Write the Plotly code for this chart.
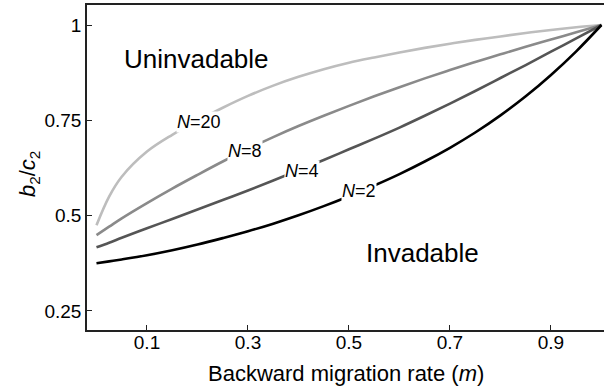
import plotly.graph_objects as go

# Backward migration rate m (x values)
m_vals = [0, 0.025, 0.05, 0.1, 0.15, 0.2, 0.25, 0.3, 0.35, 0.4, 0.45, 0.5,
          0.55, 0.6, 0.65, 0.7, 0.75, 0.8, 0.85, 0.9, 0.95, 1.0]

# b2/c2 threshold curves
n20 = [0.475, 0.550, 0.602, 0.668, 0.712, 0.749, 0.783, 0.814, 0.841, 0.864, 0.884, 0.901,
       0.915, 0.928, 0.940, 0.951, 0.961, 0.970, 0.979, 0.987, 0.994, 1.0]
n8 = [0.449, 0.471, 0.493, 0.533, 0.571, 0.607, 0.642, 0.675, 0.706, 0.735, 0.762, 0.788,
      0.813, 0.837, 0.860, 0.882, 0.903, 0.923, 0.943, 0.962, 0.981, 1.0]
n4 = [0.417, 0.429, 0.442, 0.467, 0.491, 0.516, 0.541, 0.566, 0.592, 0.619, 0.646, 0.674,
      0.702, 0.731, 0.762, 0.794, 0.827, 0.861, 0.895, 0.930, 0.965, 1.0]
n2 = [0.375, 0.380, 0.385, 0.396, 0.409, 0.424, 0.441, 0.459, 0.479, 0.501, 0.525, 0.551,
      0.579, 0.609, 0.642, 0.678, 0.718, 0.763, 0.813, 0.869, 0.931, 1.0]

series = [("N=20", n20, "#bdbdbd"), ("N=8", n8, "#8a8a8a"),
          ("N=4", n4, "#555555"), ("N=2", n2, "#000000")]

x_ticks = [0.1, 0.3, 0.5, 0.7, 0.9]
x_ticklabels = ["0.1", "0.3", "0.5", "0.7", "0.9"]
y_ticks = [0.25, 0.5, 0.75, 1.0]
y_ticklabels = ["0.25", "0.5", "0.75", "1"]

# curve label positions (m, b2/c2)
label_names = ["N=20", "N=8", "N=4", "N=2"]
label_x = [0.202, 0.294, 0.406, 0.519]
label_y = [0.746, 0.670, 0.618, 0.565]

FONT = "Liberation Sans, Arial, Helvetica, sans-serif"

fig = go.Figure()
for name, vals, col in series:
    fig.add_trace(go.Scatter(x=m_vals, y=vals, mode="lines", name=name,
                             line=dict(color=col, width=2.6, shape="spline", smoothing=1.0),
                             showlegend=False, hoverinfo="skip"))

for nm, lx, ly in zip(label_names, label_x, label_y):
    n_val = nm.split("=")[1]
    fig.add_annotation(x=lx, y=ly, xref="x", yref="y", showarrow=False,
                       text="<i>N</i>=" + n_val, bgcolor="white", borderpad=0,
                       font=dict(family=FONT, size=18, color="black"))

fig.add_annotation(x=0.199, y=0.910, xref="x", yref="y", showarrow=False,
                   text="Uninvadable", font=dict(family=FONT, size=26, color="black"))
fig.add_annotation(x=0.645, y=0.402, xref="x", yref="y", showarrow=False,
                   text="Invadable", font=dict(family=FONT, size=26, color="black"))

# axis titles
fig.add_annotation(x=0.5, y=-0.09, xref="paper", yref="paper", showarrow=False,
                   xanchor="center", yanchor="top",
                   text="Backward migration rate (<i>m</i>)",
                   font=dict(family=FONT, size=22, color="black"))
fig.add_annotation(x=-0.112, y=0.48, xref="paper", yref="paper", showarrow=False,
                   textangle=-90, xanchor="center", yanchor="middle",
                   text="<i>b</i><sub>2</sub>/<i>c</i><sub>2</sub>",
                   font=dict(family=FONT, size=22, color="black"))

axis_common = dict(showgrid=False, zeroline=False, showline=True, linecolor="#222222",
                   linewidth=1.5, ticks="inside", ticklen=5, tickwidth=1.2,
                   tickcolor="#222222", tickfont=dict(family=FONT, size=19, color="black"))

fig.update_xaxes(range=[-0.0188, 1.005], tickvals=x_ticks, ticktext=x_ticklabels,
                 mirror=True, ticklabelstandoff=-6, **axis_common)
fig.update_yaxes(range=[0.2, 1.0525], tickvals=y_ticks, ticktext=y_ticklabels,
                 **axis_common)

fig.update_layout(width=604, height=390, margin=dict(l=87, r=0, t=5, b=60),
                  plot_bgcolor="white", paper_bgcolor="white",
                  font=dict(family=FONT))

fig.write_html("out.html", config={"displayModeBar": False},
               post_script="document.body.style.margin='0px';document.body.style.overflow='hidden';")
